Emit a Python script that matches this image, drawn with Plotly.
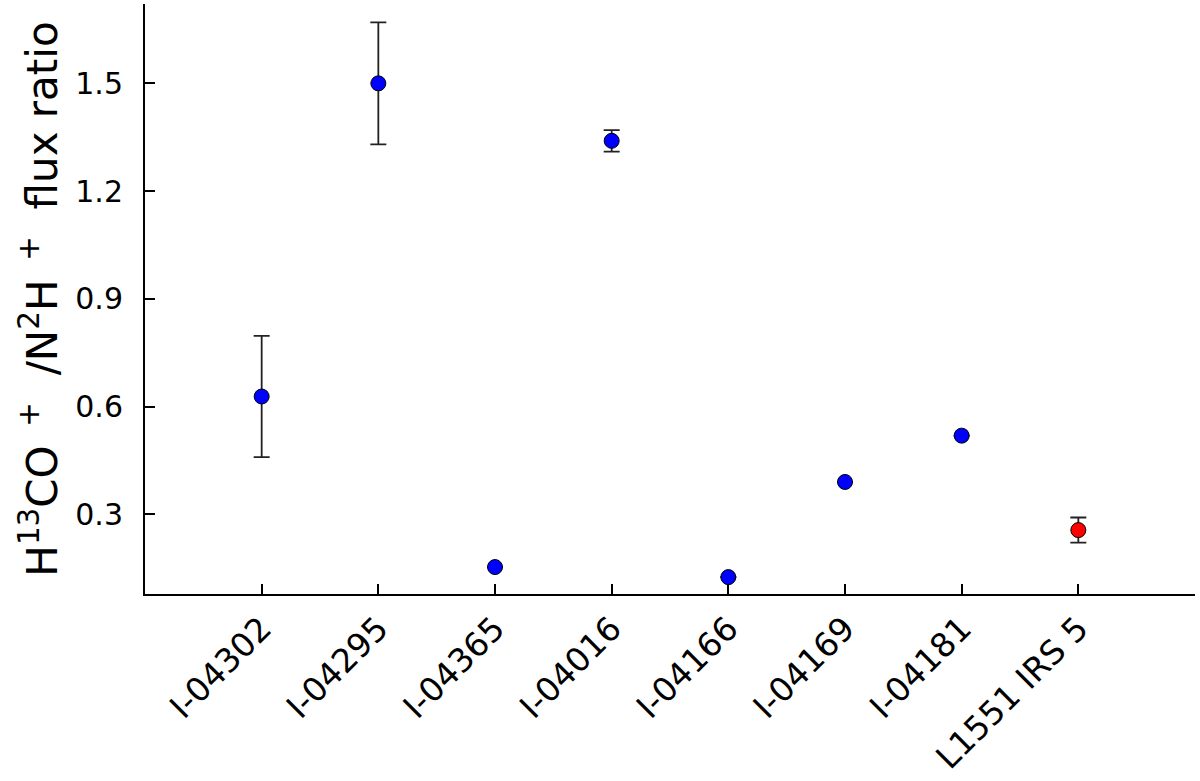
import plotly.graph_objects as go

sources = ["I-04302", "I-04295", "I-04365", "I-04016", "I-04166", "I-04169", "I-04181", "L1551 IRS 5"]
ratio = [0.628, 1.50, 0.153, 1.340, 0.125, 0.390, 0.519, 0.256]
ratio_err = [0.169, 0.17, 0.0, 0.03, 0.0, 0.0, 0.0, 0.035]
colors = ["blue", "blue", "blue", "blue", "blue", "blue", "blue", "red"]
y_ticks = [0.3, 0.6, 0.9, 1.2, 1.5]

font_family = "DejaVu Sans"

fig = go.Figure()
fig.add_trace(go.Scatter(
    x=sources, y=ratio, mode="markers",
    marker=dict(color=colors, size=15, line=dict(color="black", width=1)),
    error_y=dict(type="data", array=ratio_err, visible=True,
                 color="#222222", thickness=1.8, width=8),
    showlegend=False,
))

fig.update_layout(
    width=1200, height=781,
    margin=dict(l=145, r=5, t=4, b=187),
    paper_bgcolor="white", plot_bgcolor="white",
    font=dict(family=font_family, color="black", size=30),
    xaxis=dict(
        type="category", range=[-1, 8], automargin=False,
        showline=True, linecolor="black", linewidth=2,
        ticks="inside", ticklen=10, tickwidth=1.5, tickcolor="black",
        tickangle=-45, tickfont=dict(size=33),
        showgrid=False, zeroline=False,
    ),
    yaxis=dict(
        range=[0.078, 1.721], automargin=False,
        tickvals=y_ticks, ticktext=[f"{v:.1f}" for v in y_ticks],
        showline=True, linecolor="black", linewidth=2,
        ticks="inside", ticklen=10, tickwidth=1.5, tickcolor="black",
        ticklabelstandoff=14, tickfont=dict(size=30),
        showgrid=False, zeroline=False,
        title=dict(text="H<sup>13</sup>CO<sup>  +</sup>  /N<sup>2</sup>H<sup>  +</sup>  flux ratio",
                   font=dict(size=42), standoff=5),
    ),
)

fig.write_html("out.html", config={"displayModeBar": False},
               post_script="document.body.style.margin='0px';")
